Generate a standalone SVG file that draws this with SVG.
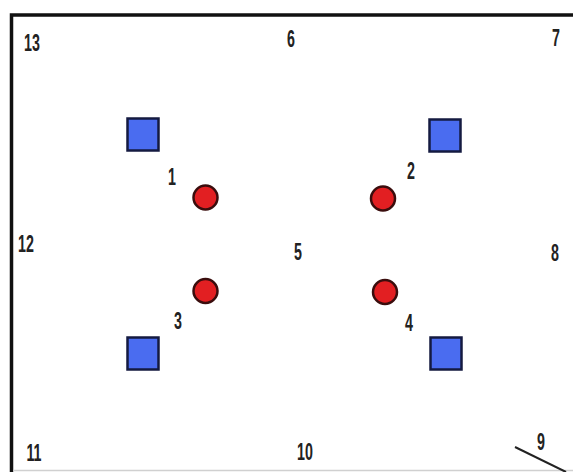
<svg xmlns="http://www.w3.org/2000/svg" width="573" height="472" viewBox="0 0 573 472">
  <style>
    .sq { fill: #4a6cf0; stroke: #141a40; stroke-width: 2.5; }
    .ci { fill: #e21f22; stroke: #3a0d0d; stroke-width: 2.5; }
    .lb { font-family: "Liberation Sans", Arial, sans-serif; font-weight: bold; font-size: 23px; fill: #222; text-anchor: middle; }
    .frame { stroke: #111; stroke-width: 3.5; fill: none; }
  </style>
  <rect width="573" height="472" fill="#fff"/>
  <g id="frame">
    <polyline class="frame" points="11.5,472 11.5,15 573,15"/>
    <line x1="13" y1="470.5" x2="573" y2="470.5" stroke="#d0d0d0" stroke-width="1.5"/>
  </g>
  <g id="connectors">
    <line x1="515" y1="447" x2="566" y2="472" stroke="#222" stroke-width="2"/>
  </g>
  <g id="square-tl"><rect class="sq" x="127.5" y="118.5" width="31" height="32"/></g>
  <g id="square-tr"><rect class="sq" x="429.5" y="119.5" width="31" height="32"/></g>
  <g id="square-bl"><rect class="sq" x="127.5" y="337.5" width="31" height="32"/></g>
  <g id="square-br"><rect class="sq" x="430.5" y="337.5" width="31" height="32"/></g>
  <g id="circle-1"><circle class="ci" cx="205.5" cy="197.5" r="12"/></g>
  <g id="circle-2"><circle class="ci" cx="383" cy="198.5" r="12"/></g>
  <g id="circle-3"><circle class="ci" cx="205.5" cy="291" r="12"/></g>
  <g id="circle-4"><circle class="ci" cx="385" cy="292" r="12"/></g>
  <g id="labels">
    <text class="lb" transform="translate(32,51) scale(0.62,1)">13</text>
    <text class="lb" transform="translate(291,47) scale(0.62,1)">6</text>
    <text class="lb" transform="translate(556,46) scale(0.62,1)">7</text>
    <text class="lb" transform="translate(26,252) scale(0.62,1)">12</text>
    <text class="lb" transform="translate(298,260) scale(0.62,1)">5</text>
    <text class="lb" transform="translate(555,261) scale(0.62,1)">8</text>
    <text class="lb" transform="translate(172,185) scale(0.62,1)">1</text>
    <text class="lb" transform="translate(411,179) scale(0.62,1)">2</text>
    <text class="lb" transform="translate(178,329) scale(0.62,1)">3</text>
    <text class="lb" transform="translate(409,331) scale(0.62,1)">4</text>
    <text class="lb" transform="translate(34,461) scale(0.62,1)">11</text>
    <text class="lb" transform="translate(305,460) scale(0.62,1)">10</text>
    <text class="lb" transform="translate(541,450) scale(0.62,1)">9</text>
  </g>
</svg>
